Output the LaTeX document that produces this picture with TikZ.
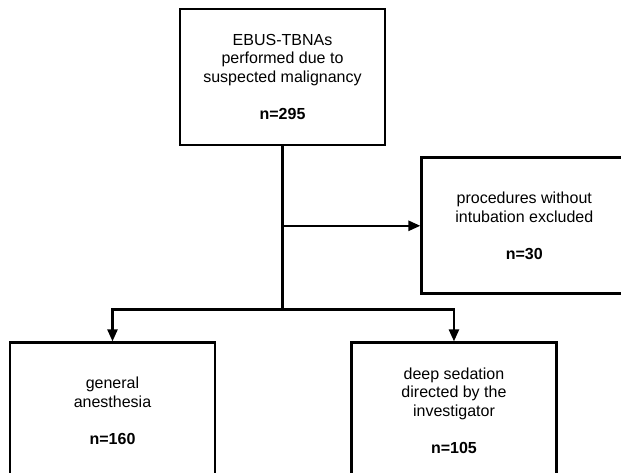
\documentclass[tikz,border=0pt]{standalone}
\usepackage{fontspec}
\setmainfont{Liberation Sans}
\usepackage{tikz}
\usetikzlibrary{arrows.meta, positioning}

\begin{document}
\begin{tikzpicture}[
        box/.style={rectangle, draw=black, line width=2.1pt, align=center, minimum width=153.75pt, minimum height=102pt, inner sep=0pt, font=\fontsize{12}{14}\selectfont},
        line/.style={line width=1.8pt},
        arrow/.style={-{Triangle[length=9pt, width=7.5pt]}, line width=1.8pt}
        ]
        \clip (-211.875pt,57.75pt) rectangle (253.875pt,-297pt);

        % Boxes
        \node[box] (total) at (0,0) {EBUS-TBNAs\\performed due to\\suspected malignancy\\[14pt]\textbf{n=295}};

        \node[box, below right=7.5pt and 25.5pt of total] (excluded) {procedures without\\intubation excluded\\[14pt]\textbf{n=30}};

        \node[box, below=146.25pt of total, xshift=-127.5pt] (general) {general\\anesthesia\\[14pt]\textbf{n=160}};

        \node[box, below=146.25pt of total, xshift=128.6pt] (sedation) {deep sedation\\directed by the\\investigator\\[14pt]\textbf{n=105}};

        \coordinate[below=122.25pt of total.south] (split);

        % Connections
        \draw[line] (total.south) -- (split);
        \draw[arrow] (total.south |- excluded.west) -- (excluded.west);
        \draw[arrow] (split) -| (general.north);
        \draw[arrow] (split) -| (sedation.north);
\end{tikzpicture}
\end{document}
